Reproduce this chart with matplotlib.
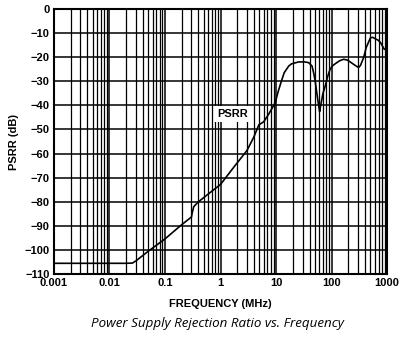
import matplotlib

matplotlib.use("Agg")
import matplotlib.pyplot as plt
from matplotlib.ticker import FixedLocator, NullFormatter

# PSRR curve, frequency in MHz and rejection in dB
freq_mhz = [
    0.001, 0.005, 0.02, 0.026, 0.03, 0.05, 0.1, 0.2, 0.3, 0.31, 0.33,
    0.4, 0.6, 1.0, 1.74, 3.0, 3.97, 4.9, 6.0, 7.4, 9.7, 11.0, 12.8, 14.0,
    16.9, 19.0, 25.5, 33.0, 38.6, 44.4, 48.0, 51.0, 55.0, 57.0, 60.9,
    63.0, 70.0, 77.0, 85.0, 94.0, 105.0, 124.0, 140.0, 164.0, 190.0,
    216.0, 260.0, 305.0, 330.0, 377.0, 420.0, 500.0, 550.0, 610.0,
    690.0, 760.0, 890.0, 950.0, 1000.0,
]
psrr_db = [
    -105.5, -105.5, -105.5, -105.4, -104.5, -100.5, -95.4, -89.5, -86.3,
    -84.5, -82.0, -80.0, -76.8, -72.8, -65.6, -58.7, -53.2, -48.1, -46.8,
    -43.6, -38.8, -34.0, -29.2, -26.5, -23.7, -22.8, -22.0, -22.0, -22.3,
    -23.7, -27.0, -30.5, -36.0, -38.5, -42.6, -40.5, -35.0, -31.9, -28.0,
    -25.0, -23.5, -22.3, -21.5, -20.9, -21.2, -22.0, -23.3, -24.3, -23.5,
    -20.2, -16.0, -12.0, -11.8, -12.4, -13.0, -14.0, -16.8, -16.5, -12.0,
]

x_ticks = [0.001, 0.01, 0.1, 1, 10, 100, 1000]
x_tick_labels = ["0.001", "0.01", "0.1", "1", "10", "100", "1000"]
y_ticks = list(range(-110, 1, 10))
y_tick_labels = ["\u2212%d" % -v if v < 0 else "0" for v in y_ticks]

fig = plt.figure(figsize=(4.11, 3.41), dpi=100)
ax = fig.add_axes([0.131, 0.196, 0.811, 0.778])

ax.set_xscale("log")
ax.set_xlim(0.001, 1000)
ax.set_ylim(-110, 0)

# full log grid: decades plus 2..9 in every decade
minor = [m * 10.0 ** e for e in range(-3, 3) for m in range(2, 10)]
ax.xaxis.set_major_locator(FixedLocator(x_ticks))
ax.xaxis.set_minor_locator(FixedLocator(minor))
ax.xaxis.set_minor_formatter(NullFormatter())
ax.set_xticks(x_ticks)
ax.set_xticklabels(x_tick_labels)
ax.set_yticks(y_ticks)
ax.set_yticklabels(y_tick_labels)

ax.grid(which="major", axis="both", color="black", linewidth=1.1)
ax.grid(which="minor", axis="x", color="black", linewidth=0.9)
ax.tick_params(which="both", length=0, pad=3)
for lbl in ax.get_xticklabels() + ax.get_yticklabels():
    lbl.set_fontfamily("Liberation Sans")
    lbl.set_fontweight("bold")
    lbl.set_fontsize(8)
for spine in ax.spines.values():
    spine.set_linewidth(1.5)

ax.plot(freq_mhz, psrr_db, color="black", linewidth=1.2)

ax.text(
    1.65, -43.5, "PSRR",
    ha="center", va="center",
    fontfamily="Liberation Sans", fontweight="bold", fontsize=8,
    bbox=dict(facecolor="white", edgecolor="none", pad=2),
)

ax.set_ylabel("PSRR (dB)", fontfamily="Liberation Sans",
              fontweight="bold", fontsize=8, labelpad=4)
ax.set_xlabel("FREQUENCY (MHz)", fontfamily="Liberation Sans",
              fontweight="bold", fontsize=8, labelpad=8)

fig.text(0.528, 0.052, "Power Supply Rejection Ratio vs. Frequency",
         ha="center", va="center", fontfamily="Open Sans",
         style="italic", fontsize=9.6)

fig.savefig("out.png", dpi=100)
